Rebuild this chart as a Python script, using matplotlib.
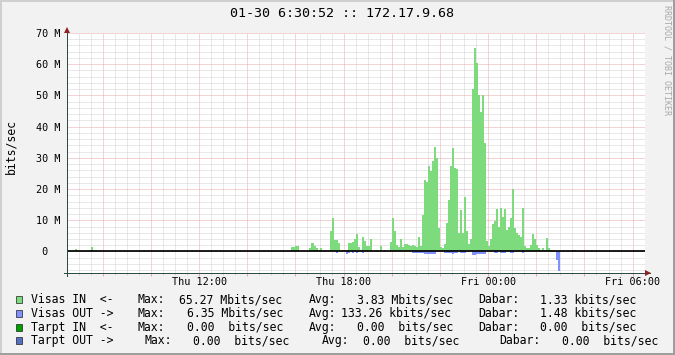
import numpy as np
import matplotlib
matplotlib.use("Agg")
import matplotlib.pyplot as plt
from matplotlib.patches import Rectangle
from matplotlib.lines import Line2D
from matplotlib.ticker import FixedLocator, MultipleLocator, FuncFormatter

MONO = "DejaVu Sans Mono"
plt.rcParams["font.family"] = [MONO, "DejaVu Sans"]

# ---------------- data ----------------
title = "01-30 6:30:52 :: 172.17.9.68"
y_label = "bits/sec"
watermark = "RRDTOOL / TOBI OETIKER"

step_minutes = 5
view_start = "Thu 06:30:52"
view_end = "Fri 06:30:52"

# Visas IN (Mbit/s), early small blips
early_in_start = "Thu 06:50"
early_in = [0.8, 0, 0, 0, 0, 0, 0, 0.4, 1.5, 0.4]

# Visas IN / OUT (Mbit/s) from Thu 15:50, 5 minute steps
main_start = "Thu 15:50"
visas_in = [
    1.3, 1.3, 1.7, 1.7, 0.3, 0.0, 0.0, 0.3, 0.0, 1.1,
    2.6, 1.9, 1.1, 0.6, 1.0, 0.3, 0.6, 0.3, 0.3, 6.5,
    10.6, 3.8, 3.8, 2.6, 0.3, 0.5, 0.5, 0.5, 2.6, 2.6,
    3.1, 4.0, 5.5, 1.4, 0.6, 4.5, 3.4, 1.7, 1.7, 3.9,
    0.3, 0.1, 0.6, 0.3, 1.6, 0.3, 0.6, 0.3, 0.3, 3.2,
    10.8, 6.5, 2.2, 1.4, 3.9, 1.5, 2.5, 2.5, 2.2, 1.9,
    2.2, 1.6, 1.5, 4.6, 1.7, 11.7, 23.0, 22.3, 27.5, 25.9,
    28.9, 33.5, 29.8, 7.6, 1.5, 1.1, 2.4, 9.0, 16.6, 27.3,
    33.2, 26.7, 26.5, 5.8, 13.3, 5.8, 17.4, 6.5, 2.4, 4.0,
    52.0, 65.27, 60.5, 50.0, 44.8, 50.0, 34.8, 3.3, 1.8, 3.9,
    8.8, 9.9, 13.5, 8.0, 13.9, 11.2, 13.5, 6.9, 8.0, 10.6,
    20.1, 7.4, 5.8, 5.3, 4.5, 14.0, 1.8, 1.0, 1.0, 2.0,
    5.6, 3.9, 2.0, 1.0, 0.6, 1.0, 0.6, 4.2, 1.0, 0.5,
    0.4, 0.3, 0.2, 0.0, 0.0, 0.0, 0.0, 0.0, 0.0, 0.0,
    0.4, 0.4,
]
visas_out = [
    0, 0, 0, 0, 0, 0, 0, 0, 0, 0,
    0, 0, 0, 0, 0, 0, 0, 0, 0, 0,
    0, 0, 0.4, 0, 0, 0, 0, 0.8, 0.5, 0,
    0.5, 0, 0.5, 0, 0, 0.5, 0, 0, 0, 0,
    0, 0, 0, 0, 0, 0, 0, 0, 0, 0,
    0, 0, 0, 0, 0, 0, 0, 0, 0, 0,
    0.4, 0.4, 0.4, 0.4, 0.4, 0.4, 0.75, 0.75, 0.75, 0.75,
    0.75, 0.75, 0, 0, 0, 0, 0.4, 0.4, 0.4, 0.4,
    0.75, 0.4, 0.4, 0, 0.4, 0.4, 0.4, 0, 0, 0,
    1.1, 1.1, 0.75, 0.75, 0.75, 0.75, 0.75, 0, 0, 0,
    0, 0.4, 0.4, 0, 0.4, 0.4, 0.4, 0, 0, 0.4,
    0.4, 0, 0, 0, 0, 0.4, 0, 0, 0, 0,
    0, 0, 0, 0, 0, 0, 0, 0, 0, 0,
    0, 0, 2.8, 6.35, 0, 0, 0, 0, 0, 0,
    0, 0,
]

y_ticks = [0, 10, 20, 30, 40, 50, 60, 70]
y_tick_labels = [" 0", "10 M", "20 M", "30 M", "40 M", "50 M", "60 M", "70 M"]
x_tick_labels = ["Thu 12:00", "Thu 18:00", "Fri 00:00", "Fri 06:00"]

legend_labels = ["Visas IN  <-", "Visas OUT ->", "Tarpt IN  <-", "Tarpt OUT ->"]
legend_colors = ["#7DDA7D", "#8090FF", "#00A000", "#5470C4"]
max_text = ["65.27 Mbits/sec", "6.35 Mbits/sec", "0.00  bits/sec", "0.00  bits/sec"]
avg_text = ["3.83 Mbits/sec", "133.26 kbits/sec", "0.00  bits/sec", "0.00  bits/sec"]
cur_text = ["1.33 kbits/sec", "1.48 kbits/sec", "0.00  bits/sec", "0.00  bits/sec"]

# ---------------- layout (pixels) ----------------
W, H = 675, 355
PL, PR, PT, PB = 67, 645, 33, 273
Y_MIN = -6.89

legend_row_y = [299.7, 313.3, 327.3, 340.7]
max_kw_x = [137.3, 137.3, 137.3, 144.7]
max_val_x = [179.3, 186.7, 186.7, 193.3]
avg_kw_x = [308.3, 308.3, 308.3, 321.7]
avg_val_x = [356.7, 341.0, 356.7, 362.7]
cur_kw_x = [478.3, 478.3, 478.3, 499.3]
cur_val_x = [540.0, 540.0, 540.0, 561.7]

GREEN = "#7DDA7D"
BLUE = "#8090FF"
BACK = "#F2F2F2"
AXIS = "#2C4D43"
ARROW = "#8B2323"
GRID = "#D2D2D2"
MGRID = "#E8A8A8"
PX = 0.72  # one pixel in points at dpi 100


def hours(s):
    day, hm = s.split()
    parts = [int(p) for p in hm.split(":")]
    while len(parts) < 3:
        parts.append(0)
    h = parts[0] + parts[1] / 60 + parts[2] / 3600
    return h + (24 if day == "Fri" else 0)


def fx(x):
    return x / W


def fy(y):
    return 1 - y / H


fig = plt.figure(figsize=(W / 100, H / 100), dpi=100, facecolor=BACK)
ax = fig.add_axes([fx(PL), fy(PB), (PR - PL) / W, (PB - PT) / H], facecolor="white")

step_h = step_minutes / 60
t0 = hours(main_start)
edges = t0 + np.arange(len(visas_in) + 1) * step_h
ax.stairs(visas_in, edges, baseline=0, fill=True, color=GREEN, lw=0, zorder=2)
ax.stairs(-np.asarray(visas_out), edges, baseline=0, fill=True, color=BLUE, lw=0, zorder=2)
te = hours(early_in_start)
edges_e = te + np.arange(len(early_in) + 1) * step_h
ax.stairs(early_in, edges_e, baseline=0, fill=True, color=GREEN, lw=0, zorder=2)

ax.axhline(0, color="black", lw=1.25, zorder=6)

x0, x1 = hours(view_start), hours(view_end)
ax.set_xlim(x0, x1)
ax.set_ylim(Y_MIN, 70)

# ticks / grid
major_x = [h for h in range(int(np.ceil(x0)), int(x1) + 1) if h % 2 == 0]
label_map = {hours(l): l for l in x_tick_labels}
ax.xaxis.set_major_locator(FixedLocator(major_x))
ax.xaxis.set_minor_locator(MultipleLocator(0.5))
ax.xaxis.set_major_formatter(FuncFormatter(lambda v, p: label_map.get(v, "")))
ax.yaxis.set_major_locator(FixedLocator(y_ticks))
ax.yaxis.set_minor_locator(MultipleLocator(2))
ax.set_yticklabels(y_tick_labels)

ax.set_axisbelow(True)
ax.grid(which="minor", color=GRID, lw=PX, ls=(0, (1, 1)), zorder=1)
ax.grid(which="major", color=MGRID, lw=PX, ls=(0, (1, 1)), zorder=1)

ax.tick_params(axis="x", which="major", length=3 * PX, width=PX, color=MGRID,
               labelsize=7.3, pad=0.8)
ax.tick_params(axis="x", which="minor", length=2 * PX, width=PX, color=GRID)
ax.tick_params(axis="y", which="both", length=0, labelsize=7.3, pad=31 * PX)
for lab in ax.get_yticklabels():
    lab.set_horizontalalignment("left")

for sp in ax.spines.values():
    sp.set_visible(False)

# axes lines and arrows (figure pixel coordinates)
fig.add_artist(Line2D([fx(64), fx(650)], [fy(PB), fy(PB)], color=AXIS, lw=PX))
fig.add_artist(Line2D([fx(PL), fx(PL)], [fy(276), fy(29)], color=AXIS, lw=PX))
fig.add_artist(Line2D([fx(PL)], [fy(30)], marker="^", ms=5, color=ARROW, mew=0))
fig.add_artist(Line2D([fx(648)], [fy(PB)], marker=">", ms=5, color=ARROW, mew=0))

# texts
fig.text(fx(342), fy(13.8), title, ha="center", va="center", fontsize=9.6, family=MONO)
fig.text(fx(10.5), fy(147), y_label, rotation=90, ha="center", va="center",
         fontsize=8.3, family=MONO)
fig.text(fx(666.5), fy(60), watermark, rotation=270, ha="center", va="center",
         fontsize=6, family=MONO, color="#A8A8A8")

# legend
for i in range(4):
    y = legend_row_y[i]
    fig.add_artist(Rectangle((fx(15.7), fy(y + 3.3)), 6.4 / W, 6.6 / H,
                             facecolor=legend_colors[i], edgecolor="#202020", lw=0.5))
    kw = dict(ha="left", va="center", fontsize=8.3, family=MONO)
    fig.text(fx(30.7), fy(y), legend_labels[i], **kw)
    fig.text(fx(max_kw_x[i]), fy(y), "Max:", **kw)
    fig.text(fx(max_val_x[i]), fy(y), max_text[i], **kw)
    fig.text(fx(avg_kw_x[i]), fy(y), "Avg:", **kw)
    fig.text(fx(avg_val_x[i]), fy(y), avg_text[i], **kw)
    fig.text(fx(cur_kw_x[i]), fy(y), "Dabar:", **kw)
    fig.text(fx(cur_val_x[i]), fy(y), cur_text[i], **kw)

# 3D frame
fig.add_artist(Line2D([0, 1], [fy(1), fy(1)], color="#CFCFCF", lw=2 * PX))
fig.add_artist(Line2D([fx(1), fx(1)], [0, 1], color="#CFCFCF", lw=2 * PX))
fig.add_artist(Line2D([0, 1], [fy(354), fy(354)], color="#9E9E9E", lw=2 * PX))
fig.add_artist(Line2D([fx(674), fx(674)], [0, 1], color="#9E9E9E", lw=2 * PX))

fig.savefig("out.png", dpi=100, facecolor=BACK)
